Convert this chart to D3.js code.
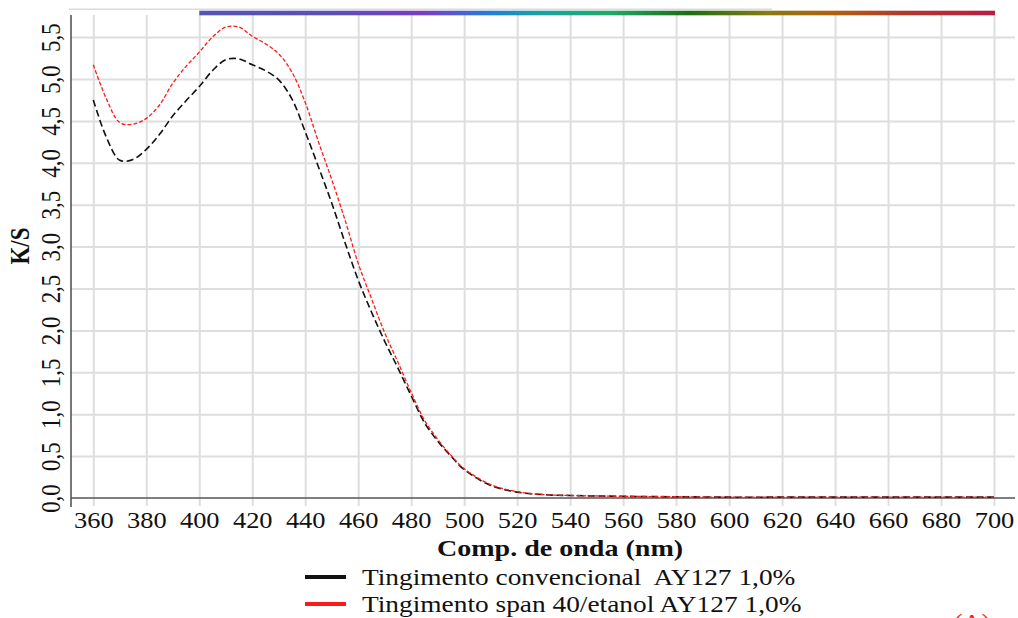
<!DOCTYPE html>
<html>
<head>
<meta charset="utf-8">
<script src="https://cdn.jsdelivr.net/npm/d3@7"></script>
<style>
  html, body { margin: 0; padding: 0; background: #fff; }
  svg { display: block; }
  text { font-family: "Liberation Serif", "Times New Roman", serif; fill: #111; }
</style>
</head>
<body>
<svg id="chart" width="1018" height="618"></svg>
<script>
// Wavelengths (nm) and K/S values of the two dyeings
const wavelengths = [360, 365, 370, 375, 380, 385, 390, 395, 400, 405, 410, 415, 420, 425, 430, 435, 440, 445, 450, 455, 460, 465, 470, 475, 480, 485, 490, 495, 500, 510, 520, 530, 540, 560, 580, 600, 620, 640, 660, 680, 700];
const convencional = [4.75, 4.30, 4.03, 4.04, 4.16, 4.34, 4.56, 4.74, 4.91, 5.10, 5.23, 5.24, 5.17, 5.10, 4.99, 4.76, 4.37, 3.95, 3.52, 3.05, 2.60, 2.22, 1.87, 1.55, 1.22, 0.90, 0.68, 0.50, 0.34, 0.15, 0.07, 0.04, 0.03, 0.02, 0.015, 0.01, 0.01, 0.01, 0.01, 0.01, 0.01];
const spanEtanol = [5.17, 4.76, 4.48, 4.46, 4.53, 4.69, 4.95, 5.15, 5.32, 5.50, 5.62, 5.62, 5.51, 5.42, 5.30, 5.08, 4.72, 4.25, 3.80, 3.32, 2.80, 2.38, 1.97, 1.62, 1.26, 0.93, 0.70, 0.51, 0.35, 0.16, 0.075, 0.04, 0.03, 0.02, 0.015, 0.01, 0.01, 0.01, 0.01, 0.01, 0.01];
const xTicks = [360, 380, 400, 420, 440, 460, 480, 500, 520, 540, 560, 580, 600, 620, 640, 660, 680, 700];
const yTicks = [0, 0.5, 1, 1.5, 2, 2.5, 3, 3.5, 4, 4.5, 5, 5.5];
const seriesNames = ["Tingimento convencional  AY127 1,0%", "Tingimento span 40/etanol AY127 1,0%"];
const seriesColors = ["#111111", "#ff1a1a"];
// Visible-spectrum strip along the top (nm -> colour)
const spectrumStops = [[400, "#5753b6"], [450, "#5b4fb6"], [485, "#7b3cc6"], [510, "#1f80d6"], [530, "#1aa39e"], [555, "#22a86a"], [585, "#1b6e12"], [615, "#8a7a14"], [640, "#b0600f"], [665, "#b03a2a"], [700, "#b81c45"]];

const svg = d3.select("#chart");
const stretch = 1.15;
const plotLeft = 71, plotRight = 1015, plotTop = 15, plotBottom = 498;

const x = d3.scaleLinear().domain([360, 700]).range([93.3, 994]);
const y = d3.scaleLinear().domain([0, 5.5]).range([plotBottom, 37.1]);
const fmt = v => d3.format(".1f")(v).replace(".", ",");

// thin top border line
svg.append("line").attr("x1", 69).attr("x2", 772).attr("y1", 9.3).attr("y2", 9.3)
  .attr("stroke", "#dcdcdc").attr("stroke-width", 1.5);

// horizontal grid
svg.append("g")
  .attr("transform", `translate(${plotLeft},0)`)
  .call(d3.axisLeft(y).tickValues(yTicks.slice(1)).tickSize(-(plotRight - plotLeft)).tickFormat(""))
  .call(g => g.select(".domain").remove())
  .call(g => g.selectAll(".tick line").attr("stroke", "#dedede").attr("stroke-width", 2));

// vertical grid
svg.append("g")
  .attr("transform", `translate(0,${plotBottom})`)
  .call(d3.axisBottom(x).tickValues(xTicks).tickSize(-(plotBottom - plotTop)).tickFormat(""))
  .call(g => g.select(".domain").remove())
  .call(g => g.selectAll(".tick line").attr("stroke", "#dedede").attr("stroke-width", 2));

// spectrum strip
const grad = svg.append("defs").append("linearGradient")
  .attr("id", "spectrum").attr("gradientUnits", "userSpaceOnUse")
  .attr("x1", x(400)).attr("x2", x(700)).attr("y1", 0).attr("y2", 0);
grad.selectAll("stop").data(spectrumStops).join("stop")
  .attr("offset", d => (d[0] - 400) / 300)
  .attr("stop-color", d => d[1]);
svg.append("rect").attr("x", x(400)).attr("width", x(700) - x(400) + 1)
  .attr("y", 10.7).attr("height", 4.6).attr("fill", "url(#spectrum)");

// x axis
const xAxis = svg.append("g")
  .attr("transform", `translate(0,${plotBottom})`)
  .call(d3.axisBottom(x).tickValues(xTicks).tickSize(8).tickPadding(0).tickFormat(d3.format("d")));
xAxis.select(".domain").remove();
xAxis.selectAll(".tick line").attr("stroke", "#dedede").attr("stroke-width", 2);
xAxis.selectAll(".tick text")
  .attr("y", 0).attr("dy", null)
  .attr("transform", `translate(0,29.5) scale(${stretch},1)`)
  .attr("font-size", 23).attr("fill", "#111");
svg.append("line").attr("x1", plotLeft).attr("x2", plotRight)
  .attr("y1", plotBottom).attr("y2", plotBottom)
  .attr("stroke", "#555").attr("stroke-width", 1.6);

// y axis
const yAxis = svg.append("g")
  .attr("transform", `translate(${plotLeft},0)`)
  .call(d3.axisLeft(y).tickValues(yTicks).tickSize(0).tickFormat(fmt));
yAxis.select(".domain").remove();
yAxis.selectAll(".tick text")
  .attr("x", 0).attr("dy", null).attr("text-anchor", "middle")
  .attr("transform", `translate(-11,0) scale(${stretch},1) rotate(-90)`)
  .attr("font-size", 23).attr("fill", "#111");
svg.append("line").attr("x1", plotLeft).attr("x2", plotLeft)
  .attr("y1", plotTop).attr("y2", 507)
  .attr("stroke", "#555").attr("stroke-width", 1.6);

// axis titles
svg.append("text")
  .attr("transform", `translate(560,555.5) scale(1.22,1)`)
  .attr("text-anchor", "middle").attr("font-size", 23).attr("font-weight", "bold")
  .text("Comp. de onda (nm)");
svg.append("text")
  .attr("transform", `translate(29,246) scale(${stretch},1) rotate(-90)`)
  .attr("text-anchor", "middle").attr("font-size", 23).attr("font-weight", "bold")
  .text("K/S");

// curves
const line = d3.line().x(d => x(d[0])).y(d => y(d[1])).curve(d3.curveCatmullRom.alpha(0.5));
const series = [convencional, spanEtanol];
const dashes = ["7,3.5", "4,2"];
const widths = [1.6, 1.3];
series.forEach((vals, i) => {
  svg.append("path")
    .datum(wavelengths.map((w, j) => [w, vals[j]]))
    .attr("fill", "none")
    .attr("stroke", seriesColors[i])
    .attr("stroke-width", widths[i])
    .attr("stroke-dasharray", dashes[i])
    .attr("d", line);
});

// legend
const legend = svg.append("g");
seriesNames.forEach((name, i) => {
  const ly = 577 + i * 27;
  legend.append("line").attr("x1", 305).attr("x2", 346).attr("y1", ly).attr("y2", ly)
    .attr("stroke", seriesColors[i]).attr("stroke-width", 4);
  legend.append("text")
    .attr("transform", `translate(362,${ly + 8}) scale(1.19,1)`)
    .attr("font-size", 23).style("white-space", "pre")
    .text(name);
});

// panel label, partly below the frame edge
svg.append("text")
  .attr("transform", `translate(972,630) scale(${stretch},1)`)
  .attr("text-anchor", "middle").attr("font-size", 23)
  .style("fill", "#ff1a1a")
  .text("(A)");
</script>
</body>
</html>
